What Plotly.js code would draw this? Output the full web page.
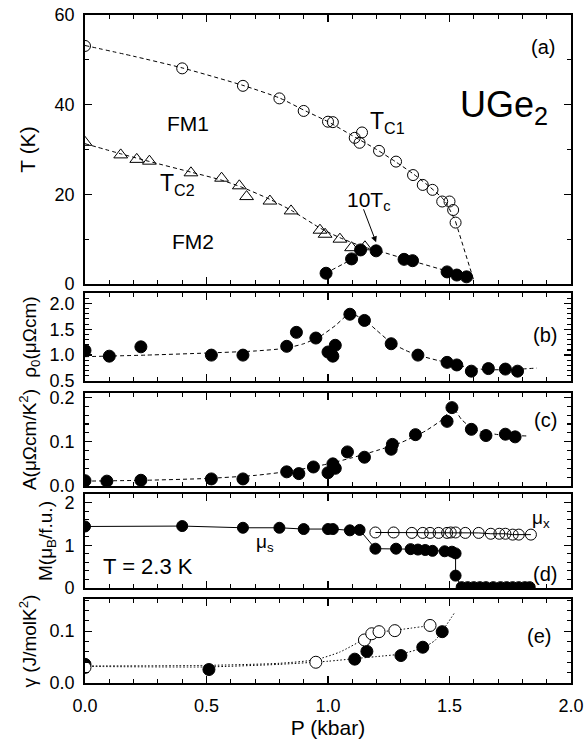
<!DOCTYPE html>
<html><head><meta charset="utf-8">
<script src="https://cdn.plot.ly/plotly-3.0.1.min.js"></script>
<style>html,body{margin:0;padding:0;background:#fff}#chart{width:588px;height:747px}</style>
</head><body><div id="chart"></div>
<script>
// ---------- Panel (a): phase diagram ----------
const P_TC1 = [0.00, 0.40, 0.65, 0.80, 0.90, 1.00, 1.02, 1.11, 1.13, 1.14, 1.21, 1.28, 1.35, 1.39, 1.43, 1.47, 1.50, 1.515, 1.525];
const T_TC1 = [53.1, 48.1, 44.2, 41.4, 38.6, 36.2, 36.1, 32.6, 31.5, 33.8, 29.7, 27.3, 24.3, 22.1, 21.0, 18.4, 18.4, 16.5, 13.7];
const P_TC1_FIT = [0, 0.2, 0.4, 0.65, 0.8, 0.9, 1.0, 1.1, 1.2, 1.28, 1.35, 1.42, 1.48, 1.525, null, 1.525, 1.60];
const T_TC1_FIT = [53.2, 50.8, 48.2, 44.3, 41.5, 38.8, 36.2, 33.1, 30.0, 27.2, 24.6, 21.6, 18.6, 13.9, null, 13.9, 0.8];

const P_TC2 = [0.00, 0.147, 0.213, 0.265, 0.436, 0.562, 0.635, 0.665, 0.761, 0.848, 0.967, 0.988, 1.049, 1.097, 1.152];
const T_TC2 = [31.6, 28.8, 27.8, 27.4, 24.8, 23.6, 21.9, 19.5, 18.5, 16.3, 12.0, 11.1, 10.0, 8.1, 8.3];
const P_TC2_FIT = [0, 0.15, 0.26, 0.44, 0.56, 0.65, 0.76, 0.85, 0.97, 1.05, 1.15, 1.2, 1.33, 1.5, 1.6];
const T_TC2_FIT = [31.3, 29.0, 27.4, 24.9, 23.2, 21.5, 18.9, 16.4, 12.4, 10.3, 8.2, 7.5, 5.4, 2.7, 0.8];

const P_TSC = [0.992, 1.097, 1.134, 1.198, 1.313, 1.348, 1.49, 1.53, 1.57];
const T_TSC10 = [2.4, 5.6, 7.6, 7.4, 5.5, 5.2, 2.7, 2.0, 1.6];
const P_TSC_FIT = [0.99, 1.10, 1.14];
const T_TSC_FIT = [2.4, 5.6, 7.6];

// ---------- Panel (b): residual resistivity ----------
const P_RHO = [0.00, 0.10, 0.23, 0.52, 0.65, 0.83, 0.87, 0.95, 1.00, 1.02, 1.03, 1.09, 1.15, 1.26, 1.37, 1.49, 1.53, 1.59, 1.66, 1.73, 1.78];
const RHO0 = [1.09, 0.98, 1.16, 1.00, 1.00, 1.17, 1.44, 1.33, 1.06, 0.98, 1.19, 1.79, 1.67, 1.22, 1.00, 0.86, 0.81, 0.69, 0.74, 0.73, 0.69];
const P_RHO_FIT = [0, 0.25, 0.5, 0.7, 0.82, 0.9, 0.97, 1.03, 1.09, 1.15, 1.2, 1.26, 1.32, 1.37, 1.45, 1.5, 1.58, 1.65, 1.75, 1.86];
const RHO0_FIT = [0.97, 1.0, 1.04, 1.08, 1.13, 1.22, 1.37, 1.57, 1.80, 1.68, 1.48, 1.24, 1.09, 1.0, 0.9, 0.85, 0.76, 0.72, 0.72, 0.75];

// ---------- Panel (c): A coefficient ----------
const P_A = [0.00, 0.09, 0.23, 0.52, 0.65, 0.83, 0.88, 0.94, 1.00, 1.02, 1.03, 1.08, 1.15, 1.26, 1.265, 1.36, 1.49, 1.51, 1.59, 1.65, 1.73, 1.77];
const A_COEF = [0.012, 0.011, 0.013, 0.016, 0.016, 0.032, 0.028, 0.043, 0.030, 0.050, 0.040, 0.077, 0.065, 0.083, 0.094, 0.116, 0.146, 0.177, 0.128, 0.114, 0.117, 0.111];
const P_A_FIT = [0, 0.25, 0.5, 0.7, 0.85, 1.0, 1.1, 1.2, 1.3, 1.4, 1.47, 1.515, 1.55, 1.6, 1.7, 1.82];
const A_FIT = [0.011, 0.013, 0.017, 0.024, 0.034, 0.050, 0.064, 0.080, 0.098, 0.124, 0.150, 0.175, 0.150, 0.128, 0.116, 0.113];

// ---------- Panel (d): magnetization at T = 2.3 K ----------
const P_MS = [0.00, 0.40, 0.65, 0.80, 0.90, 1.00, 1.02, 1.09, 1.13, 1.195, 1.28, 1.34, 1.37, 1.40, 1.43, 1.48, 1.51, 1.525, 1.525, 1.55, 1.575, 1.60, 1.625, 1.65, 1.68, 1.71, 1.735, 1.76, 1.785, 1.81, 1.83];
const M_S = [1.44, 1.45, 1.41, 1.41, 1.38, 1.38, 1.38, 1.35, 1.36, 0.92, 0.92, 0.91, 0.90, 0.89, 0.87, 0.86, 0.85, 0.81, 0.29, 0.02, 0.02, 0.02, 0.02, 0.02, 0.02, 0.02, 0.02, 0.02, 0.02, 0.02, 0.02];
const P_MX = [1.195, 1.27, 1.345, 1.39, 1.42, 1.455, 1.49, 1.505, 1.525, 1.565, 1.62, 1.67, 1.705, 1.73, 1.76, 1.785, 1.835];
const M_X = [1.30, 1.30, 1.29, 1.29, 1.29, 1.29, 1.29, 1.30, 1.30, 1.29, 1.29, 1.27, 1.27, 1.27, 1.25, 1.25, 1.25];

// ---------- Panel (e): specific heat coefficient ----------
const P_G_FILLED = [0.00, 0.51, 1.11, 1.16, 1.30, 1.39, 1.47];
const G_FILLED = [0.036, 0.026, 0.046, 0.061, 0.053, 0.069, 0.099];
const P_G_OPEN = [0.00, 0.95, 1.15, 1.18, 1.21, 1.275, 1.42];
const G_OPEN = [0.030, 0.040, 0.083, 0.095, 0.099, 0.101, 0.111];
const P_G_FILLED_FIT = [0, 0.5, 0.8, 1.0, 1.11, 1.2, 1.3, 1.39, 1.44, 1.47, 1.52];
const G_FILLED_FIT = [0.032, 0.031, 0.036, 0.042, 0.047, 0.051, 0.056, 0.068, 0.082, 0.10, 0.135];
const P_G_OPEN_FIT = [0, 0.5, 0.8, 0.95, 1.05, 1.15, 1.2, 1.28, 1.44];
const G_OPEN_FIT = [0.033, 0.034, 0.038, 0.045, 0.06, 0.085, 0.097, 0.102, 0.112];

const X_TICKS = [0, 0.5, 1.0, 1.5, 2.0];

// ---------- styling ----------
const FONT = 'Liberation Sans, Arial, Helvetica, sans-serif';
const DASH = '4px,3px';
const DOT = '1.5px,2px';
const K = 'black';
const TICK_SIZE = 18;
const TITLE_SIZE = 21;
const SMALL_TITLE_SIZE = 19;

function fit(x, y, xa, ya, dash, smooth) {
  return {x: x, y: y, xaxis: xa, yaxis: ya, mode: 'lines', connectgaps: false, hoverinfo: 'skip',
    line: {color: K, width: 1, dash: dash, shape: 'spline', smoothing: smooth}};
}
function pts(x, y, xa, ya, symbol, size, fill, mode, lineDash) {
  const t = {x: x, y: y, xaxis: xa, yaxis: ya, mode: mode || 'markers',
    marker: {symbol: symbol, size: size, color: fill, line: {color: K, width: 1}}};
  if (mode && mode.indexOf('lines') >= 0) t.line = {color: K, width: 1, dash: lineDash || 'solid'};
  return t;
}

const traces = [
  fit(P_TC1_FIT, T_TC1_FIT, 'x', 'y', DASH, 0.6),
  fit(P_TC2_FIT, T_TC2_FIT, 'x', 'y', DASH, 0.6),
  fit(P_TSC_FIT, T_TSC_FIT, 'x', 'y', DASH, 0.3),
  pts(P_TC1, T_TC1, 'x', 'y', 'circle-open', 11, K),
  pts(P_TC2, T_TC2, 'x', 'y', 'triangle-up-open', 12, K),
  pts(P_TSC, T_TSC10, 'x', 'y', 'circle', 12, K),

  fit(P_RHO_FIT, RHO0_FIT, 'x2', 'y2', DASH, 0.6),
  pts(P_RHO, RHO0, 'x2', 'y2', 'circle', 12, K),

  fit(P_A_FIT, A_FIT, 'x3', 'y3', DASH, 0.6),
  pts(P_A, A_COEF, 'x3', 'y3', 'circle', 12, K),

  pts(P_MS, M_S, 'x4', 'y4', 'circle', 11, K, 'lines+markers'),
  pts(P_MX, M_X, 'x4', 'y4', 'circle-open', 11, K, 'lines+markers'),

  fit(P_G_OPEN_FIT, G_OPEN_FIT, 'x5', 'y5', DOT, 0.6),
  fit(P_G_FILLED_FIT, G_FILLED_FIT, 'x5', 'y5', DOT, 0.6),
  pts(P_G_FILLED, G_FILLED, 'x5', 'y5', 'circle', 12, K),
  pts(P_G_OPEN, G_OPEN, 'x5', 'y5', 'circle', 12, 'white')
];

function xax(anchor, last) {
  const a = {anchor: anchor, domain: [0, 1], range: [0, 2], tickvals: X_TICKS, tickformat: '.1f',
    showticklabels: !!last, ticks: 'inside', ticklen: 7, tickwidth: 1.3, tickcolor: K,
    showline: true, linecolor: K, linewidth: 1.8, mirror: 'ticks', showgrid: false, zeroline: false,
    minor: {ticks: 'inside', ticklen: 4, tickwidth: 1.1, tickcolor: K, dtick: 0.1, showgrid: false},
    ticklabelstandoff: 6,
    tickfont: {family: FONT, size: TICK_SIZE, color: K}};
  if (last) a.title = {text: 'P (kbar)', font: {family: FONT, size: TITLE_SIZE, color: K}, standoff: 4};
  return a;
}
function yax(anchor, dom, range, dtick, mdtick, fmt, title, tsize, standoff) {
  return {anchor: anchor, domain: dom, range: range, dtick: dtick, tick0: 0, tickformat: fmt,
    ticks: 'inside', ticklen: 7, tickwidth: 1.3, tickcolor: K,
    showline: true, linecolor: K, linewidth: 1.8, mirror: 'ticks', showgrid: false, zeroline: false,
    minor: {ticks: 'inside', ticklen: 4, tickwidth: 1.1, tickcolor: K, dtick: mdtick, showgrid: false},
    ticklabelstandoff: 5,
    tickfont: {family: FONT, size: TICK_SIZE, color: K},
    title: {text: title, font: {family: FONT, size: tsize, color: K}, standoff: standoff}};
}

function ann(text, x, y, xa, ya, size, xanchor) {
  return {text: text, x: x, y: y, xref: xa, yref: ya, showarrow: false,
    xanchor: xanchor || 'center', yanchor: 'middle', font: {family: FONT, size: size, color: K}};
}

const layout = {
  width: 588, height: 747,
  margin: {l: 85, r: 17, t: 15, b: 64},
  paper_bgcolor: 'white', plot_bgcolor: 'white',
  showlegend: false,
  font: {family: FONT, color: K},
  xaxis: xax('y', false),
  xaxis2: xax('y2', false),
  xaxis3: xax('y3', false),
  xaxis4: xax('y4', false),
  xaxis5: xax('y5', true),
  yaxis: yax('x', [0.5973, 1], [0, 60], 20, 10, 'd', 'T (K)', TITLE_SIZE, 13),
  yaxis2: yax('x2', [0.4521, 0.5838], [0.5, 2.2], 0.5, 0.1, '.1f', '\u03c1<sub>0</sub>(\u03bc\u03a9cm)', SMALL_TITLE_SIZE, 8),
  yaxis3: yax('x3', [0.2949, 0.4341], [0, 0.21], 0.1, 0.02, '.1f', 'A(\u03bc\u03a9cm/K<sup>2</sup>)', SMALL_TITLE_SIZE, 8),
  yaxis4: yax('x4', [0.1422, 0.2829], [0, 2.2], 1, 0.2, 'd', 'M(\u03bc<sub>B</sub>/f.u.)', SMALL_TITLE_SIZE, 7),
  yaxis5: yax('x5', [0, 0.1257], [0, 0.162], 0.1, 0.02, '.1f', '\u03b3 (J/molK<sup>2</sup>)', SMALL_TITLE_SIZE, 8),
  annotations: [
    ann('(a)', 1.885, 52.9, 'x', 'y', 20),
    ann('UGe<sub>2</sub>', 1.535, 39.5, 'x', 'y', 36, 'left'),
    ann('FM1', 0.424, 35.9, 'x', 'y', 21),
    ann('FM2', 0.444, 9.4, 'x', 'y', 21),
    ann('T<sub>C1</sub>', 1.165, 36.0, 'x', 'y', 23, 'left'),
    ann('T<sub>C2</sub>', 0.30, 22.2, 'x', 'y', 23, 'left'),
    ann('10T<sub>c</sub>', 1.07, 18.6, 'x', 'y', 21, 'left'),
    {text: '', x: 1.198, y: 9.3, ax: 1.144, ay: 17.0, xref: 'x', yref: 'y', axref: 'x', ayref: 'y',
      showarrow: true, arrowhead: 2, arrowsize: 1.2, arrowwidth: 1, arrowcolor: K},
    ann('(b)', 1.893, 1.385, 'x2', 'y2', 20),
    ann('(c)', 1.893, 0.15, 'x3', 'y3', 20),
    ann('\u03bc<sub>s</sub>', 0.697, 1.05, 'x4', 'y4', 19, 'left'),
    ann('\u03bc<sub>x</sub>', 1.83, 1.62, 'x4', 'y4', 19, 'left'),
    ann('T = 2.3 K', 0.065, 0.51, 'x4', 'y4', 22, 'left'),
    ann('(d)', 1.893, 0.33, 'x4', 'y4', 20),
    ann('(e)', 1.869, 0.091, 'x5', 'y5', 20)
  ]
};

Plotly.newPlot('chart', traces, layout, {displayModeBar: false, staticPlot: true});
</script></body></html>
